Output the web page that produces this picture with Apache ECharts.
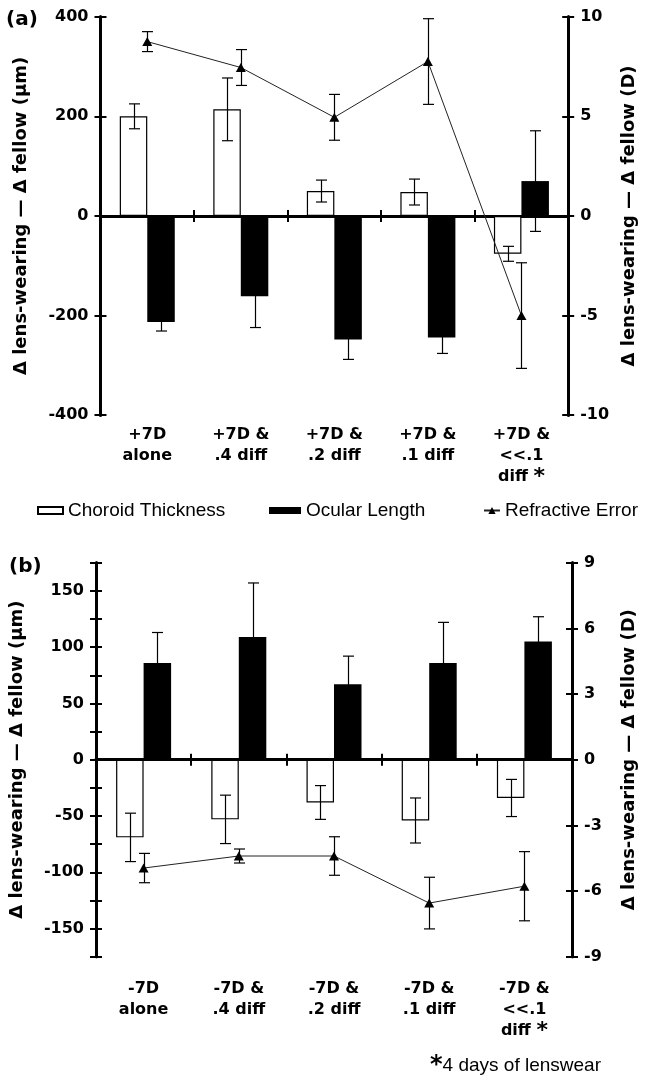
<!DOCTYPE html>
<html>
<head>
<meta charset="utf-8">
<script src="https://cdn.jsdelivr.net/npm/echarts@6/dist/echarts.min.js"></script>
<style>
html, body { margin: 0; padding: 0; background: #fff; }
#chart { width: 646px; height: 1084px; }
</style>
</head>
<body>
<div id="chart"></div>
<script>
// panel (a): plus lenses
var categoriesA = ['+7D\nalone', '+7D &\n.4 diff', '+7D &\n.2 diff', '+7D &\n.1 diff', '+7D &\n<<.1\ndiff *'];
var choroidA = [200, 214, 50, 48, -76];
var choroidErrA = [25, 63, 22, 26, 15];
var ocularA = [-213, -161, -248, -244, 70];
var ocularErrA = [18, 63, 40, 32, 101];
var refractiveA = [8.75, 7.45, 4.95, 7.75, -5.0];
var refractiveErrA = [0.5, 0.9, 1.15, 2.15, 2.65];

// panel (b): minus lenses
var categoriesB = ['-7D\nalone', '-7D &\n.4 diff', '-7D &\n.2 diff', '-7D &\n.1 diff', '-7D &\n<<.1\ndiff *'];
var choroidB = [-69, -53, -38, -54, -34];
var choroidErrB = [21.5, 21.5, 15, 20, 16.5];
var ocularB = [86, 109, 67, 86, 105];
var ocularErrB = [27, 48, 25, 36, 22];
var refractiveB = [-4.95, -4.4, -4.4, -6.55, -5.78];
var refractiveErrB = [0.67, 0.32, 0.88, 1.18, 1.58];

var chart = echarts.init(document.getElementById('chart'));

var BW = 27.5;
var boldFont = 'DejaVu Sans';
var plainFont = 'Liberation Sans';

function errorSeries(values, errs, xIdx, yIdx, offset) {
    return {
        type: 'custom',
        xAxisIndex: xIdx,
        yAxisIndex: yIdx,
        z: 5,
        silent: true,
        data: values.map(function (v, i) { return [i, v, errs[i]]; }),
        encode: { x: 0, y: 1 },
        renderItem: function (params, api) {
            var i = api.value(0), v = api.value(1), e = api.value(2);
            var hi = api.coord([i, v + e]);
            var lo = api.coord([i, v - e]);
            var x = Math.round(hi[0] + offset) + 0.5;
            var st = { stroke: '#000', lineWidth: 1.2 };
            return {
                type: 'group',
                children: [
                    { type: 'line', shape: { x1: x, y1: hi[1], x2: x, y2: lo[1] }, style: st },
                    { type: 'line', shape: { x1: x - 5.5, y1: hi[1], x2: x + 5.5, y2: hi[1] }, style: st },
                    { type: 'line', shape: { x1: x - 5.5, y1: lo[1], x2: x + 5.5, y2: lo[1] }, style: st }
                ]
            };
        }
    };
}

function xAxes(grid, cats, margin) {
    var line = { onZero: true, lineStyle: { color: '#000', width: 3 } };
    return [
        // zero line with ticks below
        {
            type: 'category', gridIndex: grid, data: cats, position: 'bottom',
            axisLine: line,
            axisTick: { show: true, length: 6, lineStyle: { color: '#000', width: 2 } },
            axisLabel: { show: false }, splitLine: { show: false }
        },
        // labels at the bottom
        {
            type: 'category', gridIndex: grid, data: cats, position: 'bottom',
            axisLine: { show: false, onZero: false },
            axisTick: { show: false },
            axisLabel: {
                interval: 0, margin: margin, color: '#000',
                fontFamily: boldFont, fontWeight: 'bold', fontSize: 16, lineHeight: 21,
                formatter: function (v) { return v.replace('*', '{s|*}'); },
                rich: {
                    s: { fontFamily: boldFont, fontWeight: 'bold', fontSize: 22, lineHeight: 21, verticalAlign: 'top', color: '#000' }
                }
            },
            splitLine: { show: false }
        },
        // ticks above the zero line
        {
            type: 'category', gridIndex: grid, data: cats, position: 'bottom',
            axisLine: line,
            axisTick: { show: true, inside: true, length: 6, lineStyle: { color: '#000', width: 2 } },
            axisLabel: { show: false }, splitLine: { show: false }
        }
    ];
}

function yAxes(grid, pos, min, max, step, name, gap, fmt) {
    var base = {
        type: 'value', gridIndex: grid, position: pos, min: min, max: max, interval: step,
        axisLine: { show: true, onZero: false, lineStyle: { color: '#000', width: 3 } },
        splitLine: { show: false }
    };
    var main = Object.assign({}, base, {
        name: name, nameLocation: 'middle', nameRotate: 90, nameGap: gap,
        nameTextStyle: { fontFamily: boldFont, fontWeight: 'bold', fontSize: 18, color: '#000' },
        axisTick: { show: true, length: 6, lineStyle: { color: '#000', width: 2 } },
        axisLabel: {
            margin: 12, color: '#000', fontFamily: boldFont, fontWeight: 'bold', fontSize: 16,
            formatter: fmt || function (v) { return String(v); }
        }
    });
    var dup = Object.assign({}, base, {
        axisTick: { show: true, inside: true, length: 6, lineStyle: { color: '#000', width: 2 } },
        axisLabel: { show: false }
    });
    return [main, dup];
}

function panelSeries(xBase, yLeft, yRight, choroid, choroidErr, ocular, ocularErr, refr, refrErr) {
    return [
        {
            name: 'Choroid Thickness', type: 'bar', xAxisIndex: xBase, yAxisIndex: yLeft,
            data: choroid, barWidth: BW, barGap: '0%',
            itemStyle: { color: '#fff', borderColor: '#000', borderWidth: 1.2 }
        },
        {
            name: 'Ocular Length', type: 'bar', xAxisIndex: xBase, yAxisIndex: yLeft,
            data: ocular, barWidth: BW, barGap: '0%',
            itemStyle: { color: '#000' }
        },
        {
            name: 'Refractive Error', type: 'line', xAxisIndex: xBase, yAxisIndex: yRight,
            data: refr, z: 6, symbol: 'triangle', symbolSize: [10, 9],
            itemStyle: { color: '#000' },
            lineStyle: { color: '#222', width: 1 }
        },
        errorSeries(choroid, choroidErr, xBase, yLeft, -BW / 2),
        errorSeries(ocular, ocularErr, xBase, yLeft, BW / 2),
        errorSeries(refr, refrErr, xBase, yRight, 0)
    ];
}

var nameUm = '\u0394 lens-wearing \u2014 \u0394 fellow (\u00b5m)';
var nameD = '\u0394 lens-wearing \u2014 \u0394 fellow (D)';
var legendText = { fontFamily: plainFont, fontSize: 19, color: '#000' };

var option = {
    animation: false,
    title: [
        { text: '(a)', left: 6, top: 10, padding: 0, textStyle: { fontFamily: boldFont, fontWeight: 'bold', fontSize: 20, color: '#000' } },
        { text: '(b)', left: 9, top: 557, padding: 0, textStyle: { fontFamily: boldFont, fontWeight: 'bold', fontSize: 20, color: '#000' } }
    ],
    grid: [
        { left: 100.5, top: 16.7, width: 475.5, height: 398.5 },
        { left: 95.5, top: 562.7, width: 478.5, height: 394 }
    ],
    legend: [
        { data: ['Choroid Thickness'], left: 37, top: 501, icon: 'rect', itemWidth: 25, itemHeight: 7, selectedMode: false, padding: 0, textStyle: legendText },
        { data: ['Ocular Length'], left: 269, top: 501, icon: 'rect', itemWidth: 32, itemHeight: 7, selectedMode: false, padding: 0, textStyle: legendText },
        { data: ['Refractive Error'], right: 8, top: 501, itemWidth: 16, itemHeight: 9, selectedMode: false, padding: 0, textStyle: legendText }
    ],
    xAxis: [].concat(xAxes(0, categoriesA, 9), xAxes(1, categoriesB, 22)),
    yAxis: [].concat(
        yAxes(0, 'left', -400, 400, 200, nameUm, 70),
        yAxes(0, 'right', -10, 10, 5, nameD, 48),
        yAxes(1, 'left', -175, 175, 25, nameUm, 70, function (v) { return v % 50 === 0 ? String(v) : ''; }),
        yAxes(1, 'right', -9, 9, 3, nameD, 48)
    ),
    series: [].concat(
        panelSeries(0, 0, 2, choroidA, choroidErrA, ocularA, ocularErrA, refractiveA, refractiveErrA),
        panelSeries(3, 4, 6, choroidB, choroidErrB, ocularB, ocularErrB, refractiveB, refractiveErrB)
    ),
    graphic: [
        {
            type: 'text', left: 430, top: 1054,
            style: {
                text: '{a|*}{b|4 days of lenswear}',
                rich: {
                    a: { fontFamily: boldFont, fontWeight: 'bold', fontSize: 24, fill: '#000', verticalAlign: 'top' },
                    b: { fontFamily: plainFont, fontSize: 19, fill: '#000' }
                }
            }
        }
    ]
};

chart.setOption(option);
</script>
</body>
</html>
